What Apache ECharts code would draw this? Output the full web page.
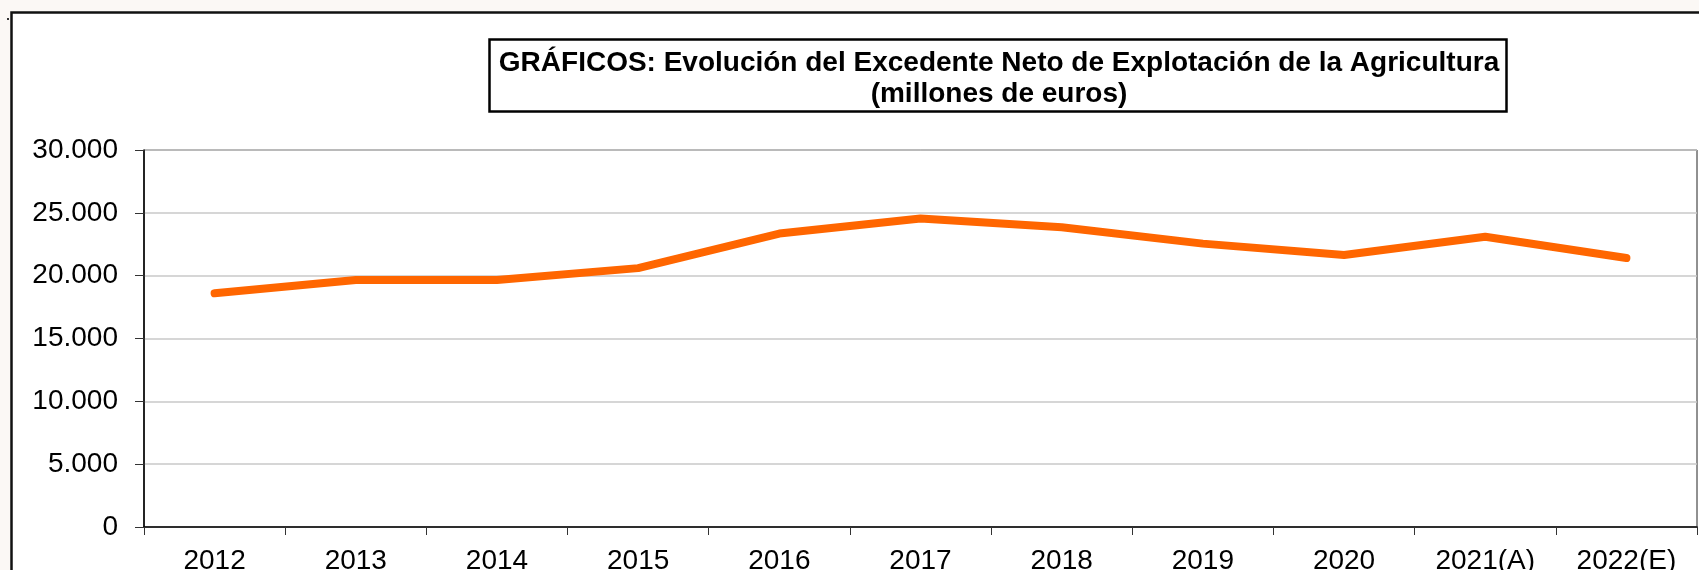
<!DOCTYPE html>
<html>
<head>
<meta charset="utf-8">
<script src="https://cdn.jsdelivr.net/npm/echarts@6/dist/echarts.min.js"></script>
<style>
  html, body { margin: 0; padding: 0; background: #fbf8f5; }
  #chart { width: 1699px; height: 570px; }
</style>
</head>
<body>
<div id="chart"></div>
<script>
// años y excedente neto (millones de euros)
var years = ['2012', '2013', '2014', '2015', '2016', '2017', '2018', '2019', '2020', '2021(A)', '2022(E)'];
var excedente = [18600, 19650, 19650, 20600, 23350, 24550, 23850, 22550, 21650, 23100, 21400];
var yTicks = [0, 5000, 10000, 15000, 20000, 25000, 30000];

var titulo = 'GRÁFICOS: Evolución del Excedente Neto de Explotación de la Agricultura\n(millones de euros)';
var fuente = '"Liberation Sans", Arial, sans-serif';

function miles(v) {
    return String(v).replace(/\B(?=(\d{3})+(?!\d))/g, '.');
}

var myChart = echarts.init(document.getElementById('chart'));

var option = {
    animation: false,
    // titulo
    title: {
        text: titulo,
        left: 994,
        top: 43,
        textAlign: 'center',
        textStyle: {
            fontFamily: fuente,
            fontSize: 28,
            fontWeight: 'bold',
            color: '#000',
            lineHeight: 31,
            align: 'center'
        }
    },
    // marco exterior y caja del titulo
    graphic: [
        {
            type: 'rect',
            z: -10,
            shape: { x: 11.5, y: 12.5, width: 1800, height: 700 },
            style: { fill: '#fff', stroke: '#111', lineWidth: 2.5 }
        },
        {
            type: 'rect',
            z: -5,
            shape: { x: 489.5, y: 39.5, width: 1017, height: 72 },
            style: { fill: '#fff', stroke: '#000', lineWidth: 2.5 }
        },
        {
            type: 'rect',
            z: -5,
            shape: { x: 7, y: 18, width: 2, height: 2 },
            style: { fill: '#333' }
        }
    ],
    grid: {
        left: 144,
        top: 150,
        right: 2,
        bottom: 43,
        outerBoundsMode: 'none',
        containLabel: false,
        show: true,
        borderColor: '#222',
        borderWidth: 1
    },
    xAxis: {
        type: 'category',
        data: years,
        boundaryGap: true,
        axisLine: { lineStyle: { color: '#000', width: 1.5 } },
        axisTick: { show: true, length: 8, lineStyle: { color: '#333' } },
        axisLabel: {
            interval: 0,
            margin: 20,
            color: '#000',
            fontFamily: fuente,
            fontSize: 28
        }
    },
    yAxis: {
        type: 'value',
        min: yTicks[0],
        max: yTicks[yTicks.length - 1],
        interval: 5000,
        axisLine: { show: true, lineStyle: { color: '#000', width: 1.5 } },
        axisTick: { show: true, length: 9, lineStyle: { color: '#333' } },
        splitLine: { lineStyle: { color: '#c8c8c8', width: 1.5 } },
        axisLabel: {
            margin: 26,
            color: '#000',
            fontFamily: fuente,
            fontSize: 28,
            formatter: miles
        }
    },
    series: [
        {
            name: 'Excedente Neto de Explotación',
            type: 'line',
            data: excedente,
            showSymbol: false,
            color: '#ff6600',
            lineStyle: { width: 8, color: '#ff6600', cap: 'round', join: 'round' }
        }
    ]
};

myChart.setOption(option);
</script>
</body>
</html>
